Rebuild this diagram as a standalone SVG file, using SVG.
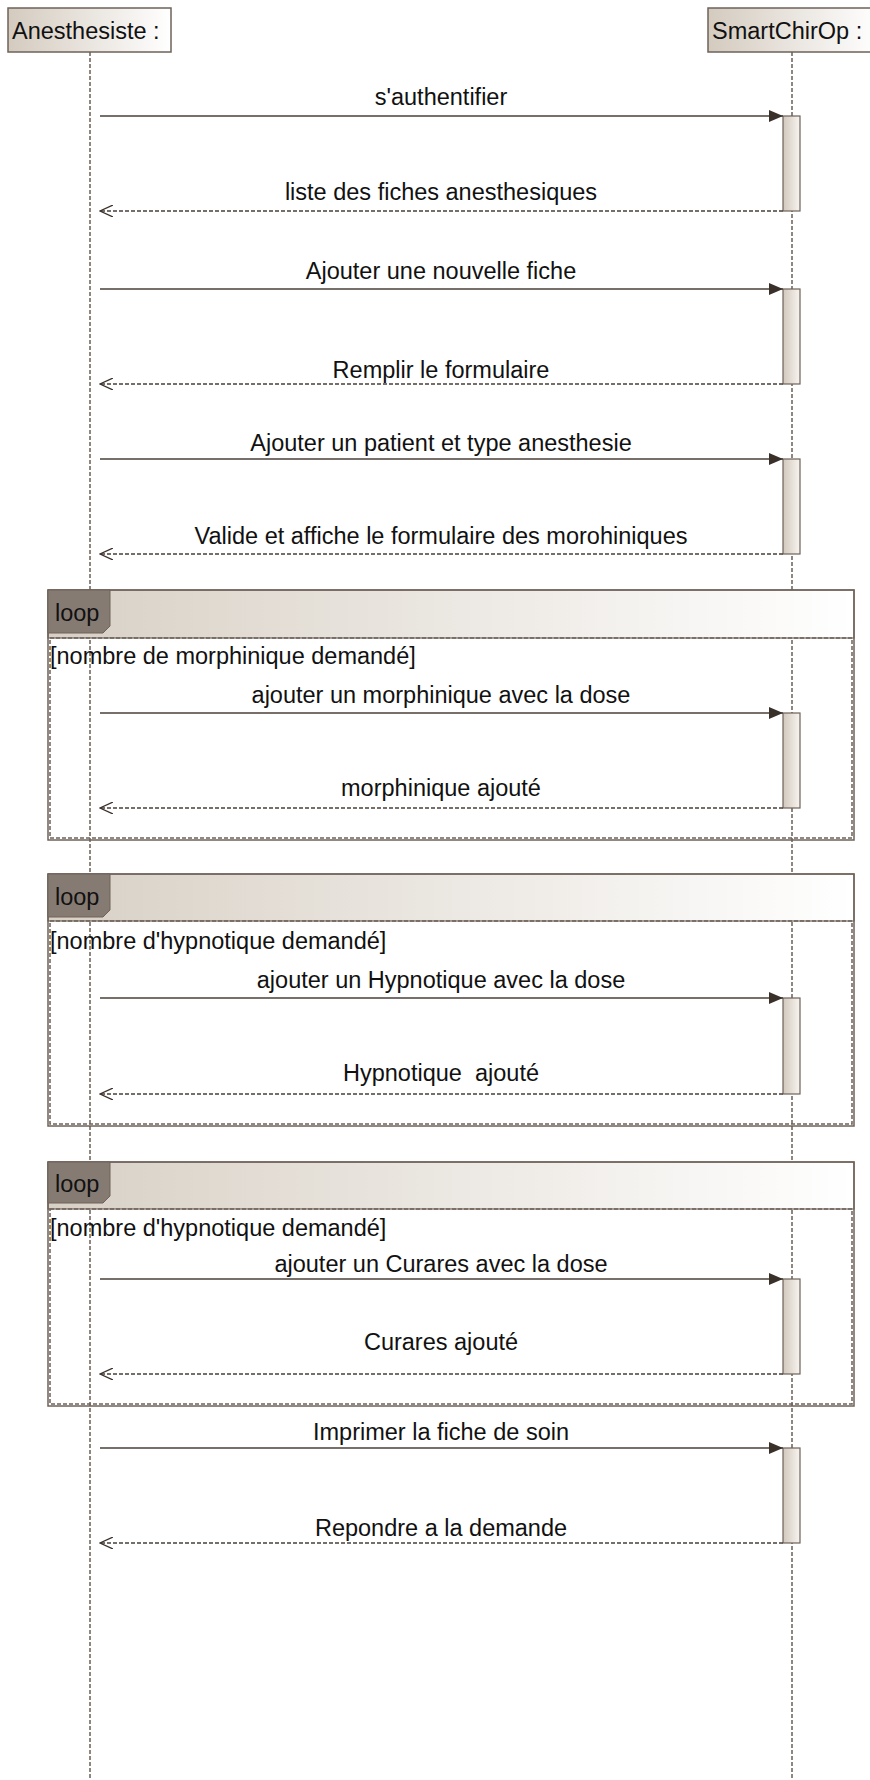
<svg xmlns="http://www.w3.org/2000/svg" width="870" height="1780" viewBox="0 0 870 1780">
<defs>
<linearGradient id="gHead" x1="0" y1="0" x2="1" y2="0">
<stop offset="0" stop-color="#d4cbbf"/><stop offset="1" stop-color="#ffffff"/>
</linearGradient>
<linearGradient id="gAct" x1="0" y1="0" x2="1" y2="0">
<stop offset="0" stop-color="#d2c8bc"/><stop offset="1" stop-color="#f7f4f0"/>
</linearGradient>
<linearGradient id="gFrame" x1="0" y1="0" x2="1" y2="0">
<stop offset="0" stop-color="#d8d0c5"/><stop offset="1" stop-color="#ffffff"/>
</linearGradient>
<marker id="mSync" markerWidth="14" markerHeight="12" refX="14" refY="6" orient="auto" markerUnits="userSpaceOnUse">
<path d="M0,0 L14,6 L0,12 z" fill="#3a302a"/>
</marker>
<marker id="mRet" markerWidth="14" markerHeight="12" refX="13" refY="6" orient="auto" markerUnits="userSpaceOnUse">
<path d="M0,0 L13,6 L0,12" fill="none" stroke="#3a302a" stroke-width="1.3"/>
</marker>
</defs>
<style>
text{font-family:"Liberation Sans",Arial,sans-serif;font-size:23.5px;fill:#111}
.lbl{text-anchor:middle}
.life{stroke:#6b5f57;stroke-width:1.5;stroke-dasharray:4,2;fill:none}
.head{fill:url(#gHead);stroke:#6e6259;stroke-width:1.5}
.act{fill:url(#gAct);stroke:#6e6259;stroke-width:1.2}
.call{stroke:#4a3f38;stroke-width:1.6;fill:none;marker-end:url(#mSync)}
.ret{stroke:#4a3f38;stroke-width:1.4;stroke-dasharray:4,2;fill:none;marker-end:url(#mRet)}
.frm{fill:none;stroke:#6e6259;stroke-width:1.5}
.frmd{fill:none;stroke:#6e6259;stroke-width:1.5;stroke-dasharray:4,2}
.fhead{fill:url(#gFrame);stroke:#6e6259;stroke-width:1.2}
.tab{fill:#867b73;stroke:#6e6259;stroke-width:1}
</style>
<rect width="870" height="1780" fill="#ffffff"/>

<g id="lifelines">
<line class="life" x1="90" y1="52" x2="90" y2="1780"/>
<line class="life" x1="792" y1="52" x2="792" y2="1780"/>
</g>

<g id="anesthesiste">
<rect class="head" x="8" y="8" width="163" height="44"/>
<text x="12" y="39">Anesthesiste :</text>
</g>
<g id="smartchirop">
<rect class="head" x="708" y="8" width="170" height="44"/>
<text x="712" y="39">SmartChirOp :</text>
</g>

<g id="loop1">
<rect class="fhead" x="48" y="590" width="806" height="48"/>
<rect class="frm" x="48" y="590" width="806" height="250"/>
<rect class="frmd" x="50" y="638" width="802" height="200"/>
<path class="tab" d="M48,590 H110 V626 L103,633 H48 Z"/>
<text x="55" y="621">loop</text>
<text x="50" y="664">[nombre de morphinique demandé]</text>
</g>
<g id="loop2">
<rect class="fhead" x="48" y="874" width="806" height="47"/>
<rect class="frm" x="48" y="874" width="806" height="252"/>
<rect class="frmd" x="50" y="921" width="802" height="203"/>
<path class="tab" d="M48,874 H110 V910 L103,917 H48 Z"/>
<text x="55" y="905">loop</text>
<text x="50" y="949">[nombre d'hypnotique demandé]</text>
</g>
<g id="loop3">
<rect class="fhead" x="48" y="1162" width="806" height="47"/>
<rect class="frm" x="48" y="1162" width="806" height="244"/>
<rect class="frmd" x="50" y="1209" width="802" height="195"/>
<path class="tab" d="M48,1162 H110 V1196 L103,1203 H48 Z"/>
<text x="55" y="1192">loop</text>
<text x="50" y="1236">[nombre d'hypnotique demandé]</text>
</g>

<g id="activations">
<rect class="act" x="783" y="116" width="17" height="95"/>
<rect class="act" x="783" y="289" width="17" height="95"/>
<rect class="act" x="783" y="459" width="17" height="95"/>
<rect class="act" x="783" y="713" width="17" height="95"/>
<rect class="act" x="783" y="998" width="17" height="96"/>
<rect class="act" x="783" y="1279" width="17" height="95"/>
<rect class="act" x="783" y="1448" width="17" height="95"/>
</g>

<g id="connectors">
<line class="call" x1="100" y1="116" x2="783" y2="116"/>
<line class="ret" x1="783" y1="211" x2="100" y2="211"/>
<line class="call" x1="100" y1="289" x2="783" y2="289"/>
<line class="ret" x1="783" y1="384" x2="100" y2="384"/>
<line class="call" x1="100" y1="459" x2="783" y2="459"/>
<line class="ret" x1="783" y1="554" x2="100" y2="554"/>
<line class="call" x1="100" y1="713" x2="783" y2="713"/>
<line class="ret" x1="783" y1="808" x2="100" y2="808"/>
<line class="call" x1="100" y1="998" x2="783" y2="998"/>
<line class="ret" x1="783" y1="1094" x2="100" y2="1094"/>
<line class="call" x1="100" y1="1279" x2="783" y2="1279"/>
<line class="ret" x1="783" y1="1374" x2="100" y2="1374"/>
<line class="call" x1="100" y1="1448" x2="783" y2="1448"/>
<line class="ret" x1="783" y1="1543" x2="100" y2="1543"/>
</g>

<g id="labels">
<text class="lbl" x="441" y="105">s'authentifier</text>
<text class="lbl" x="441" y="200">liste des fiches anesthesiques</text>
<text class="lbl" x="441" y="279">Ajouter une nouvelle fiche</text>
<text class="lbl" x="441" y="378">Remplir le formulaire</text>
<text class="lbl" x="441" y="451">Ajouter un patient et type anesthesie</text>
<text class="lbl" x="441" y="544">Valide et affiche le formulaire des morohiniques</text>
<text class="lbl" x="441" y="703">ajouter un morphinique avec la dose</text>
<text class="lbl" x="441" y="796">morphinique ajouté</text>
<text class="lbl" x="441" y="988">ajouter un Hypnotique avec la dose</text>
<text class="lbl" x="441" y="1081" xml:space="preserve">Hypnotique  ajouté</text>
<text class="lbl" x="441" y="1272">ajouter un Curares avec la dose</text>
<text class="lbl" x="441" y="1350">Curares ajouté</text>
<text class="lbl" x="441" y="1440">Imprimer la fiche de soin</text>
<text class="lbl" x="441" y="1536">Repondre a la demande</text>
</g>
</svg>
